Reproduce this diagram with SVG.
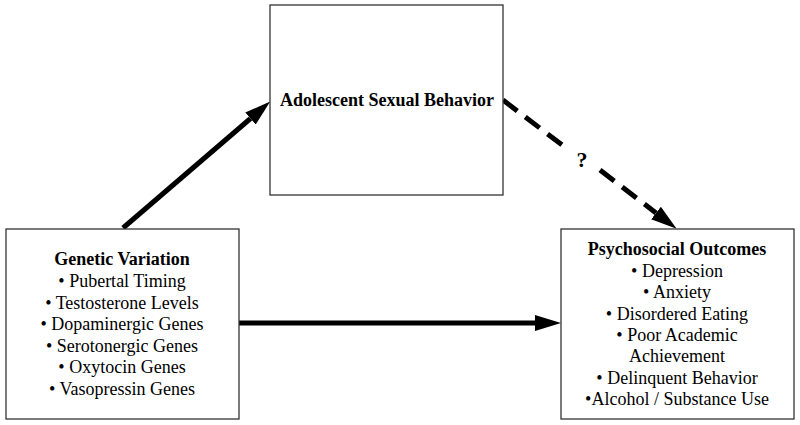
<svg xmlns="http://www.w3.org/2000/svg" width="800" height="425" viewBox="0 0 800 425">
<style>
.box{fill:#fff;stroke:#333;stroke-width:1.3}
.t{font-family:'Liberation Serif','Times New Roman',serif;font-size:18px;fill:#000;text-anchor:middle}
.b{font-weight:bold}
.c{stroke:#000;stroke-width:5;fill:none}
.d{stroke-dasharray:18 10}
</style>
<defs>
<marker id="ah" markerUnits="userSpaceOnUse" markerWidth="26" markerHeight="18" refX="0" refY="9" orient="auto" viewBox="0 0 26 18">
<path d="M0,1 L26,9 L0,17 Z" fill="#000"/>
</marker>
</defs>
<rect width="800" height="425" fill="#fff"/>
<g id="connectors">
<line class="c" x1="123" y1="228" x2="250.5" y2="118.5" marker-end="url(#ah)"/>
<line class="c d" x1="503" y1="100" x2="566" y2="148"/>
<line class="c d" x1="600" y1="170" x2="656" y2="213" marker-end="url(#ah)"/>
<line class="c" x1="239" y1="323" x2="535" y2="323" marker-end="url(#ah)"/>
<text class="t b" x="582" y="167" style="font-size:22px">?</text>
</g>
<g id="top">
<rect class="box" x="270" y="5" width="233" height="190"/>
<text class="t b" x="387" y="106">Adolescent Sexual Behavior</text>
</g>
<g id="left">
<rect class="box" x="6" y="229" width="233" height="190"/>
<text class="t b" x="122" y="265">Genetic Variation</text>
<text class="t" x="122" y="287">• Pubertal Timing</text>
<text class="t" x="122" y="308.5">• Testosterone Levels</text>
<text class="t" x="122" y="330">• Dopaminergic Genes</text>
<text class="t" x="122" y="351.5">• Serotonergic Genes</text>
<text class="t" x="122" y="373">• Oxytocin Genes</text>
<text class="t" x="122" y="394.5">• Vasopressin Genes</text>
</g>
<g id="right">
<rect class="box" x="561" y="229" width="233" height="190"/>
<text class="t b" x="677" y="255">Psychosocial Outcomes</text>
<text class="t" x="677" y="277">• Depression</text>
<text class="t" x="677" y="298">• Anxiety</text>
<text class="t" x="677" y="319.5">• Disordered Eating</text>
<text class="t" x="677" y="341">• Poor Academic</text>
<text class="t" x="677" y="362">Achievement</text>
<text class="t" x="677" y="383.5">• Delinquent Behavior</text>
<text class="t" x="677" y="405">•Alcohol / Substance Use</text>
</g>
</svg>
